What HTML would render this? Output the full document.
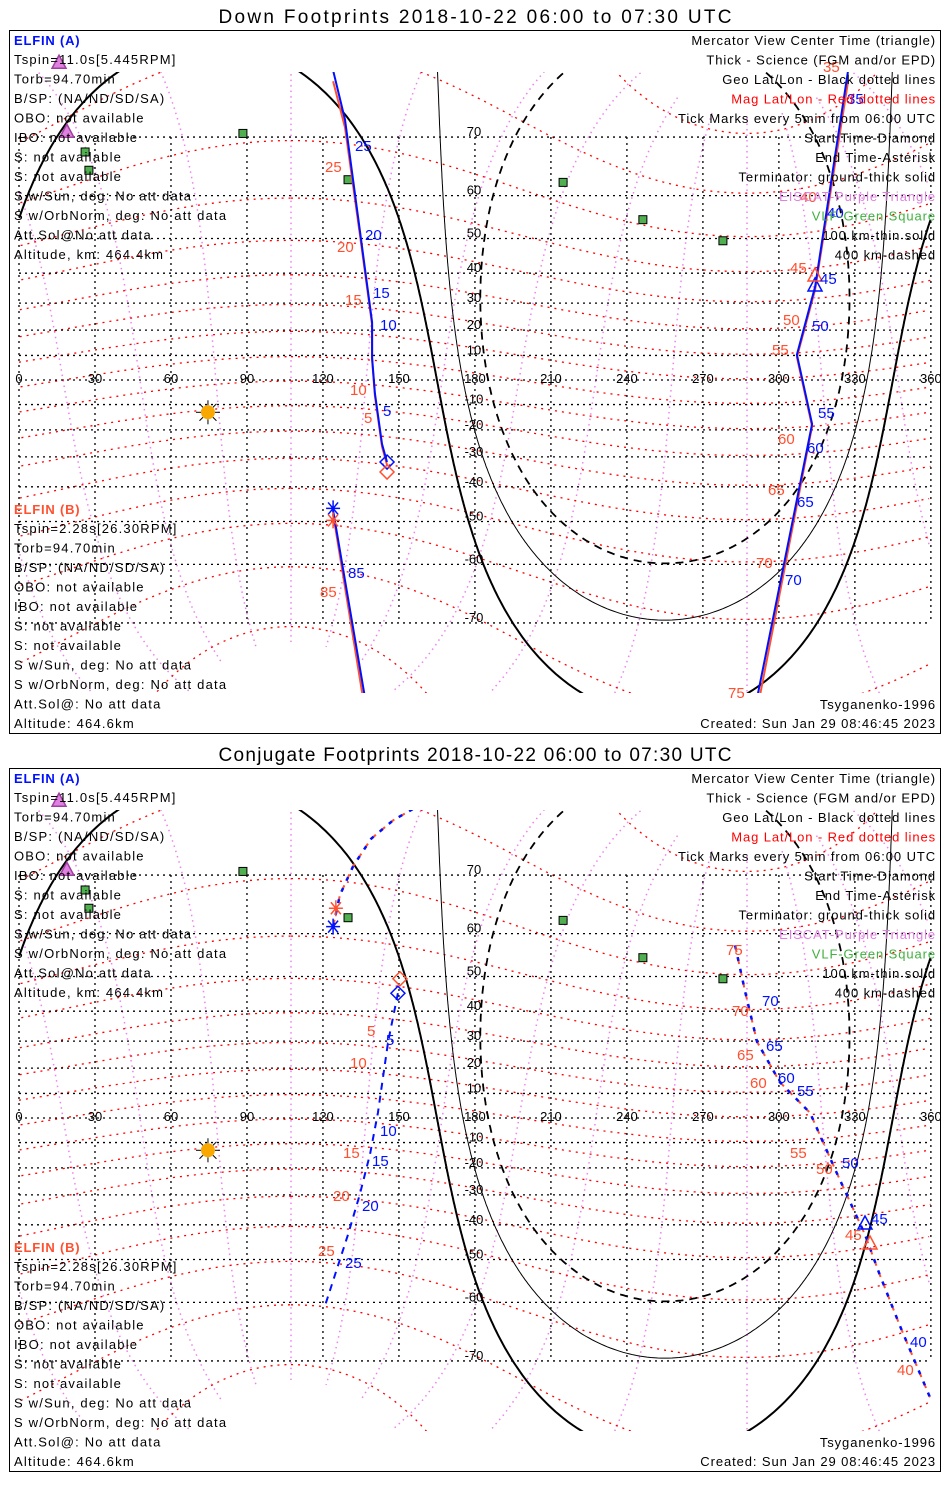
<!DOCTYPE html>
<html><head><meta charset="utf-8"><style>
body{margin:0;background:#fff;}
svg text{font-family:"Liberation Sans",sans-serif;}
</style></head><body>
<svg id="root" width="950" height="1500" viewBox="0 0 950 1500" xmlns="http://www.w3.org/2000/svg"></svg>
<script>
// ---- data (lon, lat in degrees) ----
const lonTicks = [0,30,60,90,120,150,180,210,240,270,300,330,360];
const latTicks = [70,60,50,40,30,20,10,-10,-20,-30,-40,-50,-60,-70];
const sunLon = 74.6, sunLat = -13.1;
const antiSunLat = 10.3, antiSunLon = 255;
const termRadii = [90, 79.9, 70.1];       // ground, 100 km, 400 km
const magPoleLat = 80.5, magPoleLon = 287.4;
const magLats = [-80,-70,-60,-50,-40,-30,-20,-10,0,10,20,30,40,50,60,70,80];
const magLons = [0,30,60,90,120,150,180,210,240,270,300,330];
const vlfLon = [88.4,26.1,27.6,129.9,214.8,246.3,277.9];
const vlfLat = [70.5,67.8,64.8,63.1,62.6,54.7,49.4];
const eiscatLon = [15.8,18.9];
const eiscatLat = [78.2,70.8];
// panel 1 (down footprints)
const d1Lon = [124,128.7,134.6,139.4,139.4,140.5,143.3,145.3];
const d1Lat = [77.5,72.3,52,23,9.1,-5.4,-25.3,-31.8];
const d2Lon = [327.3,314.3,307.1,313.1,291.4];
const d2Lat = [77.5,35.6,10.3,-17.7,-78.2];
const d3Lon = [124,136.6];
const d3Lat = [-47,-78.2];
// panel 2 (conjugate footprints)
const c1Lon = [124,126.7,131.9,139,147.7,157.5];
const c1Lat = [61.4,67,71.2,74.5,76.4,77.7];
const c2Lon = [149.6,145.7,141.7,138.6,134.6,129.9,120.8];
const c2Lat = [45.4,29.7,2.1,-14.5,-29.7,-43,-60.7];
const c3Lon = [282.7,286.6,291.4,300.4,312.3,322.1,334,339.9,347.8,359.6];
const c3Lat = [57.5,46,29.7,14.5,2.1,-20.4,-43,-54,-64.5,-74.5];
const leftLinesA = ["Tspin=11.0s[5.445RPM]","Torb=94.70min","B/SP: (NA/ND/SD/SA)","OBO: not available","IBO: not available","S: not available","S: not available","S w/Sun, deg: No att data","S w/OrbNorm, deg: No att data","Att.Sol@No att data","Altitude, km: 464.4km"];
const leftLinesB = ["Tspin=2.28s[26.30RPM]","Torb=94.70min","B/SP: (NA/ND/SD/SA)","OBO: not available","IBO: not available","S: not available","S: not available","S w/Sun, deg: No att data","S w/OrbNorm, deg: No att data","Att.Sol@: No att data","Altitude: 464.6km"];
const legendLines = [["Mercator View Center Time (triangle)","#000"],["Thick - Science (FGM and/or EPD)","#000"],["Geo Lat/Lon - Black dotted lines","#000"],["Mag Lat/Lon - Red dotted lines","#f00"],["Tick Marks every 5min from 06:00 UTC","#000"],["Start Time-Diamond","#000"],["End Time-Asterisk","#000"],["Terminator: ground-thick solid","#000"],["EISCAT-Purple Triangle","#e080e0"],["VLF-Green Square","#40b040"],["100 km-thin solid","#000"],["400 km-dashed","#000"]];

const NS="http://www.w3.org/2000/svg";
const root=document.getElementById('root');
function el(tag,attrs,parent){const e=document.createElementNS(NS,tag);for(const k in attrs)e.setAttribute(k,attrs[k]);(parent||root).appendChild(e);return e;}
const R=Math.PI/180;
function xOf(lon){return 19+lon*2.533;}
function yOf(lat,off){lat=Math.max(-85,Math.min(85,lat));return off+380-140*Math.log(Math.tan(Math.PI/4+lat*R/2));}
function circle(cLat,cLon,rad,az0,az1,n){
  const p=[Math.cos(cLat*R)*Math.cos(cLon*R),Math.cos(cLat*R)*Math.sin(cLon*R),Math.sin(cLat*R)];
  let e1=[-p[2]*p[0],-p[2]*p[1],1-p[2]*p[2]];let l=Math.hypot(...e1);e1=e1.map(v=>v/l);
  const e2=[p[1]*e1[2]-p[2]*e1[1],p[2]*e1[0]-p[0]*e1[2],p[0]*e1[1]-p[1]*e1[0]];
  const pts=[];
  for(let i=0;i<=n;i++){const az=(az0+(az1-az0)*(n?i/n:0))*R;const c=Math.cos(rad*R),s=Math.sin(rad*R);
    const v=[0,1,2].map(k=>c*p[k]+s*(Math.cos(az)*e1[k]+Math.sin(az)*e2[k]));
    let lon=Math.atan2(v[1],v[0])/R;if(lon<0)lon+=360;pts.push([lon,Math.asin(Math.max(-1,Math.min(1,v[2])))/R]);}
  return pts;
}
function geoPath(pts,off){let d="";let prev=null;
  for(const [lon,lat] of pts){const x=xOf(lon),y=yOf(lat,off);
    if(prev===null||Math.abs(lon-prev)>180)d+="M"+x.toFixed(1)+","+y.toFixed(1);else d+="L"+x.toFixed(1)+","+y.toFixed(1);prev=lon;}
  return d;}
function zip(lons,lats){return lons.map((v,i)=>[v,lats[i]]);}
function star(g,x,y,c,name){const e=el('path',{d:`M${x-7},${y}H${x+7}M${x},${y-8}V${y+8}M${x-5},${y-6}L${x+5},${y+6}M${x-5},${y+6}L${x+5},${y-6}`,stroke:c,'stroke-width':1.5,fill:'none'},g);
  }
function diamond(g,x,y,c,name){const e=el('path',{d:`M${x},${y-7}L${x+7},${y}L${x},${y+7}L${x-7},${y}Z`,stroke:c,'stroke-width':1.5,fill:'none'},g);
  }
function tri(g,x,y,c,name,fill){const e=el('path',{d:`M${x},${y-7}L${x+7},${y+6}L${x-7},${y+6}Z`,stroke:c,'stroke-width':1.5,fill:fill||'none'},g);
  }
function txt(g,x,y,s,c,size,anchor,name,ls){const e=el('text',{x:x,y:y,fill:c,'font-size':size,'text-anchor':anchor||'start'},g);e.textContent=s;
  if(ls)e.setAttribute('letter-spacing',ls);
  return e;}

function panel(off,title,kind){
  const g=el('g',{});
  
  
  const t=txt(g,475,off+23,title,'#000',19,'middle','panel-title');t.setAttribute('textLength',513);
  const box=el('rect',{x:9.5,y:off+30.5,width:931,height:703,fill:'#fff',stroke:'#000','stroke-width':1},g);
  
  const cid='clip'+kind;const cp=el('clipPath',{id:cid},g);el('rect',{x:10,y:off+72,width:930,height:621},cp);
  const m=el('g',{'clip-path':`url(#${cid})`},g);
  
  for(const ml of magLons){const pts=[];for(let r=8;r<=172;r+=2)pts.push(circle(magPoleLat,magPoleLon,r,ml,ml,0)[0]);
    const e=el('path',{d:geoPath(pts,off),fill:'none',stroke:'#ee82ee','stroke-width':1.5,'stroke-dasharray':'1.5,4'},m);
    }
  for(const ml of magLats){const e=el('path',{d:geoPath(circle(magPoleLat,magPoleLon,90-ml,0,360,360),off),fill:'none',stroke:'#f00','stroke-width':1.3,'stroke-dasharray':'2,5'},m);
    }
  for(const la of [...latTicks,0]){const y=yOf(la,off);const e=el('line',{x1:xOf(0),x2:xOf(360),y1:y,y2:y,stroke:'#000','stroke-width':1.3,'stroke-dasharray':'2,4'},m);
    }
  for(const lo of lonTicks){const e=el('line',{x1:xOf(lo),x2:xOf(lo),y1:yOf(70,off),y2:yOf(-70,off),stroke:'#000','stroke-width':1.3,'stroke-dasharray':'2,4'},m);
    }
  for(const lo of lonTicks){txt(m,xOf(lo),off+383,String(lo),'#000',13,'middle','lon-tick-label');}
  for(const la of latTicks){txt(m,474,yOf(la,off)-1,String(la),'#000',13,'middle','lat-tick-label');}
  termRadii.forEach((r,i)=>{const e=el('path',{d:geoPath(circle(antiSunLat,antiSunLon,r,0,360,720),off),fill:'none',stroke:'#000','stroke-width':i==0?2:(i==2?1.8:1)},m);
    if(i==2)e.setAttribute('stroke-dasharray','8,6');
    });
  vlfLon.forEach((lo,i)=>{const e=el('rect',{x:xOf(lo)-4,y:yOf(vlfLat[i],off)-4,width:8,height:8,fill:'#50b050',stroke:'#000','stroke-width':1},m);
    });
  eiscatLon.forEach((lo,i)=>tri(g,xOf(lo),yOf(eiscatLat[i],off),'#a040a0','eiscat-triangle','#e080e0'));
  const sx=xOf(sunLon),sy=yOf(sunLat,off);const sg=el('g',{},m);
  for(let a=0;a<360;a+=45){el('line',{x1:sx+7*Math.cos(a*R),y1:sy+7*Math.sin(a*R),x2:sx+12*Math.cos(a*R),y2:sy+12*Math.sin(a*R),stroke:'#000','stroke-width':1},sg);}
  el('circle',{cx:sx,cy:sy,r:7,fill:'#f8a800'},sg);
  function track(lons,lats,col,dash,name,w){const e=el('path',{d:geoPath(zip(lons,lats),off),fill:'none',stroke:col,'stroke-width':w||2},m);
    if(dash)e.setAttribute('stroke-dasharray',dash);}
  if(kind==='down'){
    track(d1Lon,d1Lat.map(v=>v-1),'#ff5030',null,'elfin-b-track',2);
    track(d1Lon,d1Lat,'#0010ff',null,'elfin-a-track',2);
    track(d2Lon,d2Lat.map(v=>v-1),'#ff5030',null,'elfin-b-track-east',2);
    track(d2Lon,d2Lat,'#0010ff',null,'elfin-a-track-east',2);
    track(d3Lon,d3Lat.map(v=>v-1),'#ff5030',null,'elfin-b-track-south',2);
    track(d3Lon,d3Lat,'#0010ff',null,'elfin-a-track-south',2);
    diamond(g,xOf(d1Lon[7]),yOf(d1Lat[7],off),'#0010ff','start-diamond-a');
    diamond(g,xOf(d1Lon[7]),yOf(d1Lat[7],off)+10,'#ff5030','start-diamond-b');
    star(g,xOf(d3Lon[0]),yOf(d3Lat[0],off)-2,'#0010ff','end-asterisk-a');
    star(g,xOf(d3Lon[0]),yOf(d3Lat[0],off)+10,'#ff5030','end-asterisk-b');
    tri(g,815,off+285,'#0010ff','center-triangle-a');
    tri(g,815,off+275,'#ff5030','center-triangle-b');
    const lb=[[355,151,'25','#0010ff'],[325,172,'25','#ff5030'],[365,240,'20','#0010ff'],[337,252,'20','#ff5030'],[373,298,'15','#0010ff'],[345,305,'15','#ff5030'],[380,330,'10','#0010ff'],[350,395,'10','#ff5030'],[383,416,'5','#0010ff'],[364,423,'5','#ff5030'],[348,578,'85','#0010ff'],[320,597,'85','#ff5030'],[847,104,'35','#0010ff'],[823,72,'35','#ff5030'],[827,218,'40','#0010ff'],[800,202,'40','#ff5030'],[820,284,'45','#0010ff'],[790,273,'45','#ff5030'],[812,331,'50','#0010ff'],[783,325,'50','#ff5030'],[818,418,'55','#0010ff'],[772,355,'55','#ff5030'],[807,453,'60','#0010ff'],[778,444,'60','#ff5030'],[797,507,'65','#0010ff'],[768,495,'65','#ff5030'],[785,585,'70','#0010ff'],[756,568,'70','#ff5030'],[728,698,'75','#ff5030']];
    lb.forEach(l=>txt(g,l[0],off+l[1],l[2],l[3],15,'start','tick-time-label'));
  } else {
    track(c1Lon,c1Lat,'#ff5030','7,5','elfin-b-conj-track',2);
    track(c1Lon,c1Lat,'#0010ff','4,8','elfin-a-conj-track',2.5);
    track(c2Lon,c2Lat,'#0010ff','7,6','elfin-a-conj-track-south',2);
    track(c3Lon,c3Lat,'#ff5030','7,5','elfin-b-conj-track-east',2);
    track(c3Lon,c3Lat,'#0010ff','4,8','elfin-a-conj-track-east',2.5);
    star(g,xOf(c1Lon[0]),yOf(c1Lat[0],off),'#0010ff','end-asterisk-a');
    star(g,xOf(125.1),yOf(64.8,off),'#ff5030','end-asterisk-b');
    diamond(g,xOf(c2Lon[0]),yOf(c2Lat[0],off),'#0010ff','start-diamond-a');
    diamond(g,xOf(150.4),yOf(49.4,off),'#ff5030','start-diamond-b');
    tri(g,865,off+485,'#0010ff','center-triangle-a');
    tri(g,870,off+505,'#ff5030','center-triangle-b');
    const lb=[[367,298,'5','#ff5030'],[386,307,'5','#0010ff'],[350,330,'10','#ff5030'],[380,398,'10','#0010ff'],[343,420,'15','#ff5030'],[372,428,'15','#0010ff'],[333,463,'20','#ff5030'],[362,473,'20','#0010ff'],[318,518,'25','#ff5030'],[345,530,'25','#0010ff'],[726,217,'75','#ff5030'],[762,268,'70','#0010ff'],[732,278,'70','#ff5030'],[766,313,'65','#0010ff'],[737,322,'65','#ff5030'],[778,345,'60','#0010ff'],[750,350,'60','#ff5030'],[797,358,'55','#0010ff'],[790,420,'55','#ff5030'],[842,430,'50','#0010ff'],[816,436,'50','#ff5030'],[871,486,'45','#0010ff'],[845,502,'45','#ff5030'],[910,609,'40','#0010ff'],[897,637,'40','#ff5030']];
    lb.forEach(l=>txt(g,l[0],off+l[1],l[2],l[3],15,'start','tick-time-label'));
  }
  txt(g,14,off+45,'ELFIN (A)','#0010ff',13,'start','elfin-a-label','0.8').setAttribute('font-weight','bold');
  leftLinesA.forEach((s,i)=>txt(g,14,off+64+i*19.5,s,'#000',13,'start','elfin-a-info','1.2'));
  txt(g,14,off+514,'ELFIN (B)','#ff5030',13,'start','elfin-b-label','0.8').setAttribute('font-weight','bold');
  leftLinesB.forEach((s,i)=>txt(g,14,off+533+i*19.5,s,'#000',13,'start','elfin-b-info','1.2'));
  legendLines.forEach((l,i)=>txt(g,936,off+45+i*19.5,l[0],l[1],13,'end','legend-entry','0.9'));
  txt(g,936,off+709,'Tsyganenko-1996','#000',13,'end','model-label','0.9');
  txt(g,936,off+728,'Created: Sun Jan 29 08:46:45 2023','#000',13,'end','created-label','0.9');
}
panel(0,'Down Footprints 2018-10-22 06:00 to 07:30 UTC','down');
panel(738,'Conjugate Footprints 2018-10-22 06:00 to 07:30 UTC','conj');
</script>
</body></html>
